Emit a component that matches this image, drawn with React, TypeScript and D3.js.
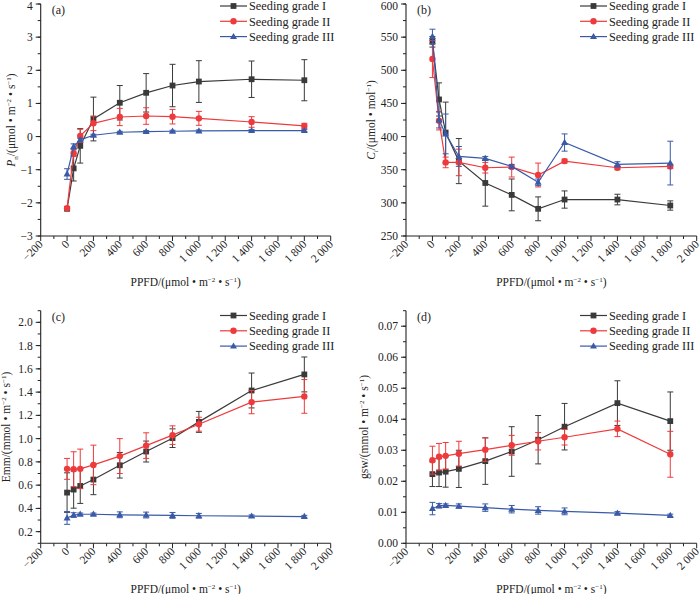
import React from "react";
import { scaleLinear, range, line } from "d3";

// PPFD levels (µmol·m-2·s-1)
const ppfd = [0, 50, 100, 200, 400, 600, 800, 1000, 1400, 1800];
const seriesNames = ["Seeding grade I", "Seeding grade II", "Seeding grade III"];
const xTicks = [-200, 0, 200, 400, 600, 800, 1000, 1200, 1400, 1600, 1800, 2000];

// (a) Pn
const pnI = [-2.18, -0.96, -0.28, 0.53, 1.02, 1.32, 1.54, 1.66, 1.73, 1.7];
const pnIErr = [0.05, 0.38, 0.52, 0.66, 0.52, 0.58, 0.64, 0.63, 0.55, 0.62];
const pnII = [-2.16, -0.5, 0.02, 0.4, 0.59, 0.62, 0.6, 0.55, 0.44, 0.32];
const pnIIErr = [0.05, 0.1, 0.2, 0.22, 0.26, 0.25, 0.22, 0.21, 0.16, 0.08];
const pnIII = [-1.13, -0.3, -0.1, 0.04, 0.13, 0.15, 0.16, 0.17, 0.18, 0.18];
const pnIIIErr = [0.16, 0.08, 0.05, 0.03, 0.03, 0.03, 0.03, 0.03, 0.03, 0.03];

// (b) Ci
const ciI = [543, 456, 406, 363, 330, 312, 291, 305, 305, 296];
const ciIErr = [8, 25, 46, 34, 35, 24, 18, 13, 8, 7];
const ciII = [517, 424, 361, 361, 353, 354, 342, 363, 353, 355];
const ciIIErr = [28, 14, 8, 20, 8, 15, 18, 3, 3, 3];
const ciIII = [551, 425, 404, 370, 367, 355, 331, 391, 358, 360];
const ciIIIErr = [11, 12, 30, 15, 3, 3, 5, 13, 4, 33];

// (c) Emm
const emI = [0.536, 0.562, 0.593, 0.648, 0.771, 0.889, 1.004, 1.144, 1.414, 1.552];
const emIErr = [0.17, 0.16, 0.15, 0.13, 0.11, 0.09, 0.08, 0.09, 0.15, 0.15];
const emII = [0.74, 0.737, 0.74, 0.774, 0.85, 0.94, 1.03, 1.124, 1.314, 1.363];
const emIIErr = [0.09, 0.15, 0.17, 0.17, 0.15, 0.11, 0.08, 0.06, 0.1, 0.145];
const emIII = [0.318, 0.343, 0.35, 0.35, 0.345, 0.343, 0.34, 0.337, 0.334, 0.33];
const emIIIErr = [0.055, 0.02, 0.01, 0.01, 0.025, 0.025, 0.025, 0.02, 0.01, 0.01];

// (d) gsw
const gsI = [0.0223, 0.0228, 0.0231, 0.024, 0.0265, 0.0296, 0.0334, 0.0376, 0.0452, 0.0394];
const gsIErr = [0.004, 0.0045, 0.005, 0.006, 0.0075, 0.008, 0.0078, 0.0075, 0.0072, 0.0094];
const gsII = [0.0268, 0.0279, 0.0282, 0.0289, 0.0302, 0.0316, 0.0329, 0.0342, 0.0369, 0.0287];
const gsIIErr = [0.0045, 0.0043, 0.0043, 0.004, 0.0038, 0.0032, 0.0028, 0.0025, 0.0025, 0.0074];
const gsIII = [0.0112, 0.0121, 0.0122, 0.012, 0.0115, 0.011, 0.0106, 0.0103, 0.0097, 0.009];
const gsIIIErr = [0.002, 0.0007, 0.0005, 0.0007, 0.0012, 0.0012, 0.0012, 0.0011, 0.0005, 0.0004];

const colors = ["#3a3a3a", "#ee3a3c", "#3a5aa8"];
const FONT = "'Liberation Serif', 'Times New Roman', serif";

function Marker({ kind, x, y, color }: any) {
  if (kind === 0) return <rect x={x - 2.9} y={y - 2.9} width={5.8} height={5.8} fill={color} />;
  if (kind === 1) return <circle cx={x} cy={y} r={3.2} fill={color} />;
  return <path d={`M${x},${y - 3.7}L${x + 3.5},${y + 2.5}L${x - 3.5},${y + 2.5}Z`} fill={color} />;
}

function XTitle({ x, y }: any) {
  return (
    <text x={x} y={y} textAnchor="middle" fontSize={11.5} fontFamily={FONT} fill="#222">
      PPFD/(μmol • m<tspan dy={-4} fontSize={7}>−2</tspan>
      <tspan dy={4}> • s</tspan>
      <tspan dy={-4} fontSize={7}>−1</tspan>
      <tspan dy={4}>)</tspan>
    </text>
  );
}

function Panel(props: any) {
  const { left, right, top, bottom, domain, major, minor, fmt, series, errs, label, ylabel, ylabelX, legendX, legendY } = props;
  const x = scaleLinear().domain([-200, 2000]).range([left, right]);
  const y = scaleLinear().domain(domain).range([bottom, top]);
  const eps = 1e-9;
  const yMajor = range(Math.ceil(domain[0] / major - eps) * major, domain[1] + eps, major);
  const yMinor = range(Math.ceil(domain[0] / minor - eps) * minor, domain[1] + eps, minor);
  const xMinor = range(-200, 2001, 100);
  const ln = line<number>()
    .x((_, i) => x(ppfd[i]))
    .y((d) => y(d));
  const midY = (top + bottom) / 2;
  return (
    <g fontFamily={FONT}>
      {/* axes */}
      <line x1={left} x2={left} y1={top} y2={bottom} stroke="#222" strokeWidth={1.1} />
      <line x1={left} x2={right} y1={bottom} y2={bottom} stroke="#222" strokeWidth={1.1} />
      {yMinor.map((v, i) => (
        <line key={`ym${i}`} x1={left} x2={left - 3} y1={y(v)} y2={y(v)} stroke="#222" />
      ))}
      {yMajor.map((v, i) => (
        <g key={`yM${i}`}>
          <line x1={left} x2={left - 5} y1={y(v)} y2={y(v)} stroke="#222" />
          <text x={left - 8} y={Math.max(y(v) + 4, 9.5)} textAnchor="end" fontSize={11.5} fill="#222">
            {fmt(v)}
          </text>
        </g>
      ))}
      {xMinor.map((v, i) => (
        <line key={`xm${i}`} x1={x(v)} x2={x(v)} y1={bottom} y2={bottom + (v % 200 === 0 ? 5 : 3)} stroke="#222" />
      ))}
      {xTicks.map((v, i) => (
        <text
          key={`xl${i}`}
          transform={`translate(${x(v) + 3},${bottom + 9}) rotate(-45)`}
          textAnchor="end"
          fontSize={11.5}
          fill="#222"
        >
          {v < 0 ? `−${-v}` : v >= 1000 ? `${Math.floor(v / 1000)} ${String(v % 1000).padStart(3, "0")}` : v}
        </text>
      ))}
      <XTitle x={(left + right) / 2} y={bottom + 50} />
      <text transform={`translate(${ylabelX},${midY}) rotate(-90)`} textAnchor="middle" fontSize={11.5} fill="#222">
        {ylabel}
      </text>
      <text x={left + 11} y={top + 10} fontSize={12} fill="#222">
        {label}
      </text>
      {/* series */}
      {series.map((s: number[], k: number) => (
        <g key={`s${k}`}>
          <path d={ln(s) || ""} fill="none" stroke={colors[k]} strokeWidth={1.2} />
          {s.map((v, i) => {
            const e = errs[k][i];
            const cx = x(ppfd[i]);
            return (
              <g key={i} stroke={colors[k]} strokeWidth={1}>
                <line x1={cx} x2={cx} y1={y(v - e)} y2={y(v + e)} />
                <line x1={cx - 3} x2={cx + 3} y1={y(v - e)} y2={y(v - e)} />
                <line x1={cx - 3} x2={cx + 3} y1={y(v + e)} y2={y(v + e)} />
              </g>
            );
          })}
          {s.map((v, i) => (
            <Marker key={`m${i}`} kind={k} x={x(ppfd[i])} y={y(v)} color={colors[k]} />
          ))}
        </g>
      ))}
      {/* legend */}
      {seriesNames.map((n, k) => (
        <g key={`lg${k}`}>
          <line x1={legendX} x2={legendX + 27} y1={legendY + k * 15.3} y2={legendY + k * 15.3} stroke={colors[k]} strokeWidth={1.2} />
          <Marker kind={k} x={legendX + 13.5} y={legendY + k * 15.3} color={colors[k]} />
          <text x={legendX + 29} y={legendY + k * 15.3 + 4.3} fontSize={12.3} fill="#222">
            {n}
          </text>
        </g>
      ))}
    </g>
  );
}

export default function App() {
  return (
    <svg width={700} height={594} style={{ position: "absolute", left: 0, top: 0, background: "#fff" }}>
      <Panel
        left={40.7}
        right={330.7}
        top={4}
        bottom={236}
        domain={[-3, 4]}
        major={1}
        minor={0.5}
        fmt={(v: number) => (v < 0 ? `−${-v}` : `${v}`)}
        series={[pnI, pnII, pnIII]}
        errs={[pnIErr, pnIIErr, pnIIIErr]}
        label="(a)"
        ylabel={
          <>
            <tspan fontStyle="italic">P</tspan>
            <tspan dy={3} fontSize={7}>n</tspan>
            <tspan dy={-3}>/(μmol • m</tspan>
            <tspan dy={-4} fontSize={7}>−2</tspan>
            <tspan dy={4}> • s</tspan>
            <tspan dy={-4} fontSize={7}>−1</tspan>
            <tspan dy={4}>)</tspan>
          </>
        }
        ylabelX={15}
        legendX={220}
        legendY={6}
      />
      <Panel
        left={406}
        right={696.7}
        top={4}
        bottom={236}
        domain={[250, 600]}
        major={50}
        minor={25}
        fmt={(v: number) => `${v}`}
        series={[ciI, ciII, ciIII]}
        errs={[ciIErr, ciIIErr, ciIIIErr]}
        label="(b)"
        ylabel={
          <>
            <tspan fontStyle="italic">C</tspan>
            <tspan dy={3} fontSize={7} fontStyle="italic">i</tspan>
            <tspan dy={-3}>/(μmol • mol</tspan>
            <tspan dy={-4} fontSize={7}>−1</tspan>
            <tspan dy={4}>)</tspan>
          </>
        }
        ylabelX={375}
        legendX={580}
        legendY={6}
      />
      <Panel
        left={40.7}
        right={330.7}
        top={310.7}
        bottom={543.3}
        domain={[0.1, 2.1]}
        major={0.2}
        minor={0.1}
        fmt={(v: number) => v.toFixed(1)}
        series={[emI, emII, emIII]}
        errs={[emIErr, emIIErr, emIIIErr]}
        label="(c)"
        ylabel={
          <>
            <tspan>Emm/(mmol • m</tspan>
            <tspan dy={-4} fontSize={7}>−2</tspan>
            <tspan dy={4}> • s</tspan>
            <tspan dy={-4} fontSize={7}>−1</tspan>
            <tspan dy={4}>)</tspan>
          </>
        }
        ylabelX={10}
        legendX={220}
        legendY={315.5}
      />
      <Panel
        left={406}
        right={696.7}
        top={310.7}
        bottom={543.3}
        domain={[0, 0.075]}
        major={0.01}
        minor={0.005}
        fmt={(v: number) => v.toFixed(2)}
        series={[gsI, gsII, gsIII]}
        errs={[gsIErr, gsIIErr, gsIIIErr]}
        label="(d)"
        ylabel={
          <>
            <tspan>gsw/(mmol • m</tspan>
            <tspan dy={-4} fontSize={7}>−2</tspan>
            <tspan dy={4}> • s</tspan>
            <tspan dy={-4} fontSize={7}>−1</tspan>
            <tspan dy={4}>)</tspan>
          </>
        }
        ylabelX={368}
        legendX={580}
        legendY={315.5}
      />
    </svg>
  );
}
